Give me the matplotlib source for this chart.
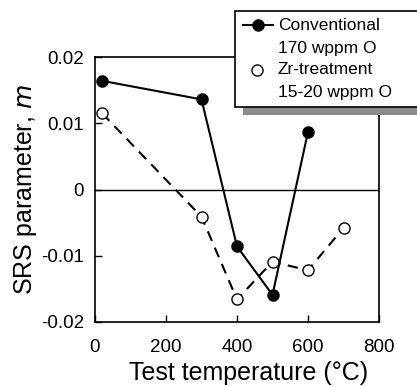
import matplotlib
matplotlib.use('Agg')
import matplotlib.pyplot as plt
from matplotlib.patches import Rectangle
from matplotlib.lines import Line2D

plt.rcParams['font.family'] = ['Liberation Sans', 'DejaVu Sans']

# data
temp_conv = [20, 300, 400, 500, 600]
m_conv = [0.0164, 0.0136, -0.0086, -0.0159, 0.0087]
temp_zr = [20, 300, 400, 500, 600, 700]
m_zr = [0.0115, -0.0041, -0.0166, -0.0109, -0.0122, -0.0058]

x_ticks = [0, 200, 400, 600, 800]
y_ticks = [-0.02, -0.01, 0, 0.01, 0.02]
y_tick_labels = ['-0.02', '-0.01', '0', '0.01', '0.02']

W, H = 417, 386
fig = plt.figure(figsize=(W / 100, H / 100), dpi=100)
ax = fig.add_axes([95 / W, 1 - 322 / H, (379 - 95) / W, (322 - 57) / H])

ax.axhline(0, color='black', lw=1.0, zorder=1)
ax.plot(temp_zr, m_zr, color='black', lw=1.5, dashes=(5, 3.5),
        marker='o', ms=8, mfc='white', mec='black', mew=1.0, zorder=2)
ax.plot(temp_conv, m_conv, color='black', lw=1.5,
        marker='o', ms=8, mfc='black', mec='black', zorder=3)

ax.set_xlim(0, 800)
ax.set_ylim(-0.02, 0.02)
ax.set_xticks(x_ticks)
ax.set_yticks(y_ticks)
ax.set_yticklabels(y_tick_labels)
ax.tick_params(direction='in', length=5, width=1, labelsize=13.5)
ax.tick_params(axis='x', pad=12)
ax.tick_params(axis='y', pad=8)
for s in ax.spines.values():
    s.set_linewidth(1.2)

ax.set_xlabel('Test temperature (°C)', fontsize=18, labelpad=4, x=0.542)
ax.set_ylabel('SRS parameter, $\\it{m}$', fontsize=18, labelpad=1)


def fx(x):
    return x / W


def fy(y):
    return 1 - y / H


# legend box drawn by hand, clipped at right edge like the original
fig.add_artist(Rectangle((fx(243), fy(115)), fx(W + 20) - fx(243), fy(107) - fy(115),
                         transform=fig.transFigure, facecolor='#8c8c8c', edgecolor='none', zorder=5))
fig.add_artist(Rectangle((fx(235), fy(107)), fx(W + 20) - fx(235), fy(11) - fy(107),
                         transform=fig.transFigure, facecolor='white', edgecolor='black', lw=1.2, zorder=6))
fig.add_artist(Line2D([fx(243), fx(273)], [fy(25), fy(25)], transform=fig.transFigure,
                      color='black', lw=1.5, zorder=7))
fig.add_artist(Line2D([fx(258)], [fy(25)], transform=fig.transFigure, marker='o', ms=8,
                      mfc='black', mec='black', color='black', zorder=7))
fig.add_artist(Line2D([fx(257)], [fy(70)], transform=fig.transFigure, marker='o', ms=8,
                      mfc='white', mec='black', mew=1.0, color='black', zorder=7))
leg_text = [('Conventional', 25), ('170 wppm O', 48), ('Zr-treatment', 70), ('15-20 wppm O', 92)]
for t, y in leg_text:
    fig.text(fx(278), fy(y), t, fontsize=12.5, va='center', ha='left', zorder=8)

fig.savefig('out.png', dpi=100)
